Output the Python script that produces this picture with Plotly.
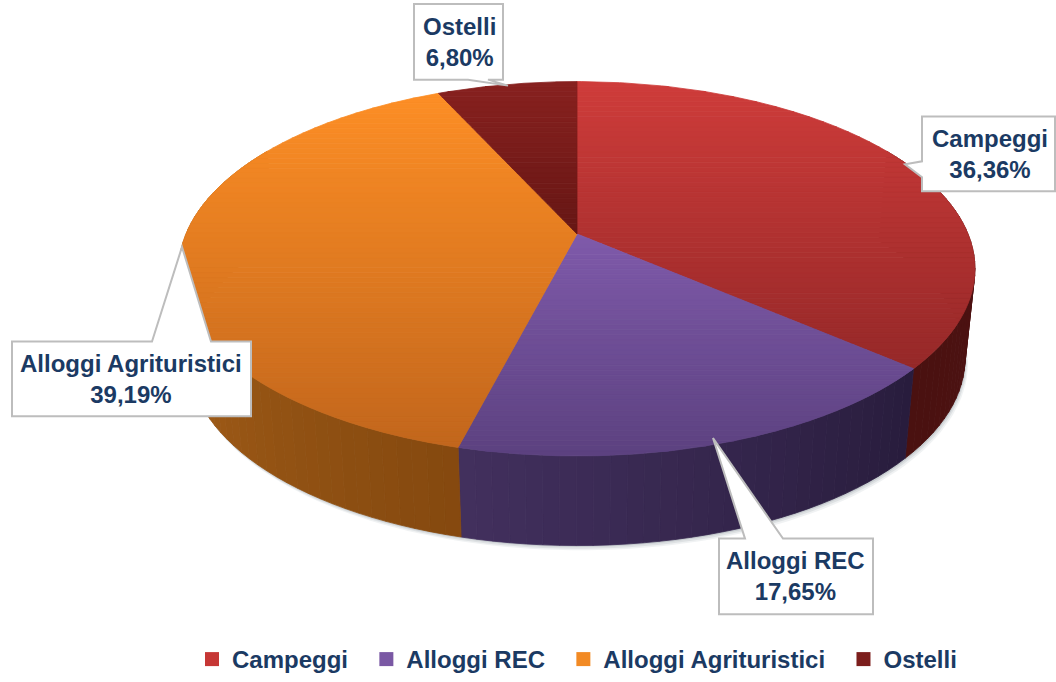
import numpy as np
import plotly.graph_objects as go

# ---- data ----
categories = ["Campeggi", "Alloggi REC", "Alloggi Agrituristici", "Ostelli"]
percentages = [36.36, 17.65, 39.19, 6.80]

# ---- styles ----
top_light = ["#cf3c3a", "#7f5aaa", "#fd8e25", "#88211f"]
top_dark = ["#952828", "#5c4180", "#c2661c", "#661614"]
wall_start = ["#4f1413", "#281c3c", "#85490f", "#3a0d0c"]   # low angle
wall_end = ["#4a1110", "#42305e", "#b96d1f", "#3a0d0c"]     # high angle
legend_colors = ["#c63735", "#7a58a4", "#f28a24", "#7c1e1c"]
TEXT = "#1b3a63"
FONT = "Liberation Sans"

# ---- projection of the tilted disc ----
CX, CY = 577.0, 235.0
RX, RY, PERSP = 391.0, 181.5, 0.186
DEPTH, BOTTOM_SCALE = 90.0, 0.975


def hex_rgb(h):
    return np.array([int(h[i:i + 2], 16) for i in (1, 3, 5)], float)


def mix(a, b, t):
    c = hex_rgb(a) * (1 - t) + hex_rgb(b) * t
    return "rgb(%d,%d,%d)" % tuple(c.round())


def rim(theta):
    u, v = np.sin(theta), np.cos(theta)
    w = 1 + PERSP * v
    return RX * u / w, RY * v / w


def top_pt(theta):
    x, y = rim(theta)
    return CX + x, CY - y


def bot_pt(theta):
    x, y = rim(theta)
    return CX + x * BOTTOM_SCALE, CY - y + DEPTH


def clip_band(poly, y0, y1):
    def clip(pts, inside, cross):
        out = []
        for i, p in enumerate(pts):
            q = pts[(i + 1) % len(pts)]
            if inside(p):
                out.append(p)
                if not inside(q):
                    out.append(cross(p, q))
            elif inside(q):
                out.append(cross(p, q))
        return out

    def at(yv):
        return lambda p, q: (p[0] + (q[0] - p[0]) * (yv - p[1]) / (q[1] - p[1]), yv)

    pts = clip(poly, lambda p: p[1] >= y0, at(y0))
    if pts:
        pts = clip(pts, lambda p: p[1] <= y1, at(y1))
    return pts


fig = go.Figure()


def add_poly(xs, ys, color, lw=0.8):
    fig.add_trace(go.Scatter(
        x=list(xs) + [xs[0]], y=list(ys) + [ys[0]], mode="lines", fill="toself",
        fillcolor=color, line=dict(color=color, width=lw),
        hoverinfo="skip", showlegend=False))


cum = np.cumsum([0] + percentages) / sum(percentages) * 2 * np.pi

# soft shadow under the disc
front = np.linspace(np.pi * 0.42, np.pi * 1.58, 120)
for off, a in ((6, 0.10), (4, 0.14), (2, 0.2)):
    xb, yb = bot_pt(front)
    add_poly(xb + off * 0.5, yb + off * 0.8, "rgba(110,125,135,%.2f)" % a, 0)

# side walls
for i in range(4):
    a0, a1 = max(cum[i], np.radians(60)), min(cum[i + 1], np.radians(300))
    if a1 <= a0:
        continue
    n = max(2, int(np.degrees(a1 - a0) / 2))
    edges = np.linspace(a0, a1, n + 1)
    for k in range(n):
        th = np.linspace(edges[k], edges[k + 1], 4)
        xt, yt = top_pt(th)
        xb, yb = bot_pt(th[::-1])
        add_poly(np.r_[xt, xb], np.r_[yt, yb], mix(wall_start[i], wall_end[i], (k + .5) / n))

# top faces, shaded in horizontal bands
for i in range(4):
    th = np.linspace(cum[i], cum[i + 1], 160)
    xt, yt = top_pt(th)
    poly = [(CX, CY)] + list(zip(xt, yt))
    ymin, ymax = min(p[1] for p in poly), max(p[1] for p in poly)
    n = max(6, int((ymax - ymin) / 5))
    edges = np.linspace(ymin, ymax, n + 1)
    for k in range(n):
        pts = clip_band(poly, edges[k], edges[k + 1])
        if len(pts) >= 3:
            add_poly([p[0] for p in pts], [p[1] for p in pts],
                     mix(top_light[i], top_dark[i], (k + .5) / n))

# legend entries
for name, col in zip(categories, legend_colors):
    fig.add_trace(go.Scatter(x=[None], y=[None], mode="markers", name=name + "\u00a0\u00a0",
                             marker=dict(symbol="square", size=14, color=col), hoverinfo="skip"))


def callout(pts):
    return dict(type="path", xref="x", yref="y", layer="above",
                path="M " + " L ".join(f"{x},{y}" for x, y in pts) + " Z",
                fillcolor="white", line=dict(color="#bdbdbd", width=2))


shapes = [
    callout([(922, 117), (1055, 117), (1055, 192), (922, 192), (922, 178), (905, 165), (922, 162)]),
    callout([(719, 541), (745, 541), (713, 440), (783, 541), (873, 541), (873, 617), (719, 617)]),
    callout([(12, 343), (152, 343), (182, 248), (211, 343), (251, 343), (251, 418), (12, 418)]),
    callout([(414, 4), (503, 4), (503, 80), (488, 80), (508, 86), (468, 80), (414, 80)]),
]
label_pos = [(990, 155), (795, 579), (131, 381), (459, 42)]
anns = [dict(x=x, y=y, xref="x", yref="y", showarrow=False, align="center",
             text=f"<b>{c}<br>{p:.2f}%</b>".replace(".", ","),
             font=dict(family=FONT, size=24, color=TEXT))
        for (x, y), c, p in zip(label_pos, categories, percentages)]

W, H = 1056, 682
fig.update_layout(
    width=W, height=H, margin=dict(l=0, r=0, t=0, b=0), autosize=False,
    paper_bgcolor="white", plot_bgcolor="white",
    xaxis=dict(range=[0, W], visible=False, fixedrange=True),
    yaxis=dict(range=[H, 0], visible=False, fixedrange=True),
    shapes=shapes, annotations=anns,
    legend=dict(orientation="h", x=192 / W, xanchor="left",
                y=1 - 662.5 / H, yanchor="middle",
                font=dict(family=FONT, size=24, color=TEXT, weight="bold"),
                itemsizing="trace", tracegroupgap=0, bgcolor="rgba(0,0,0,0)"),
)
fig.write_html("out.html", config=dict(displayModeBar=False),
               post_script="document.body.style.margin='0';document.documentElement.style.overflow='hidden';")
